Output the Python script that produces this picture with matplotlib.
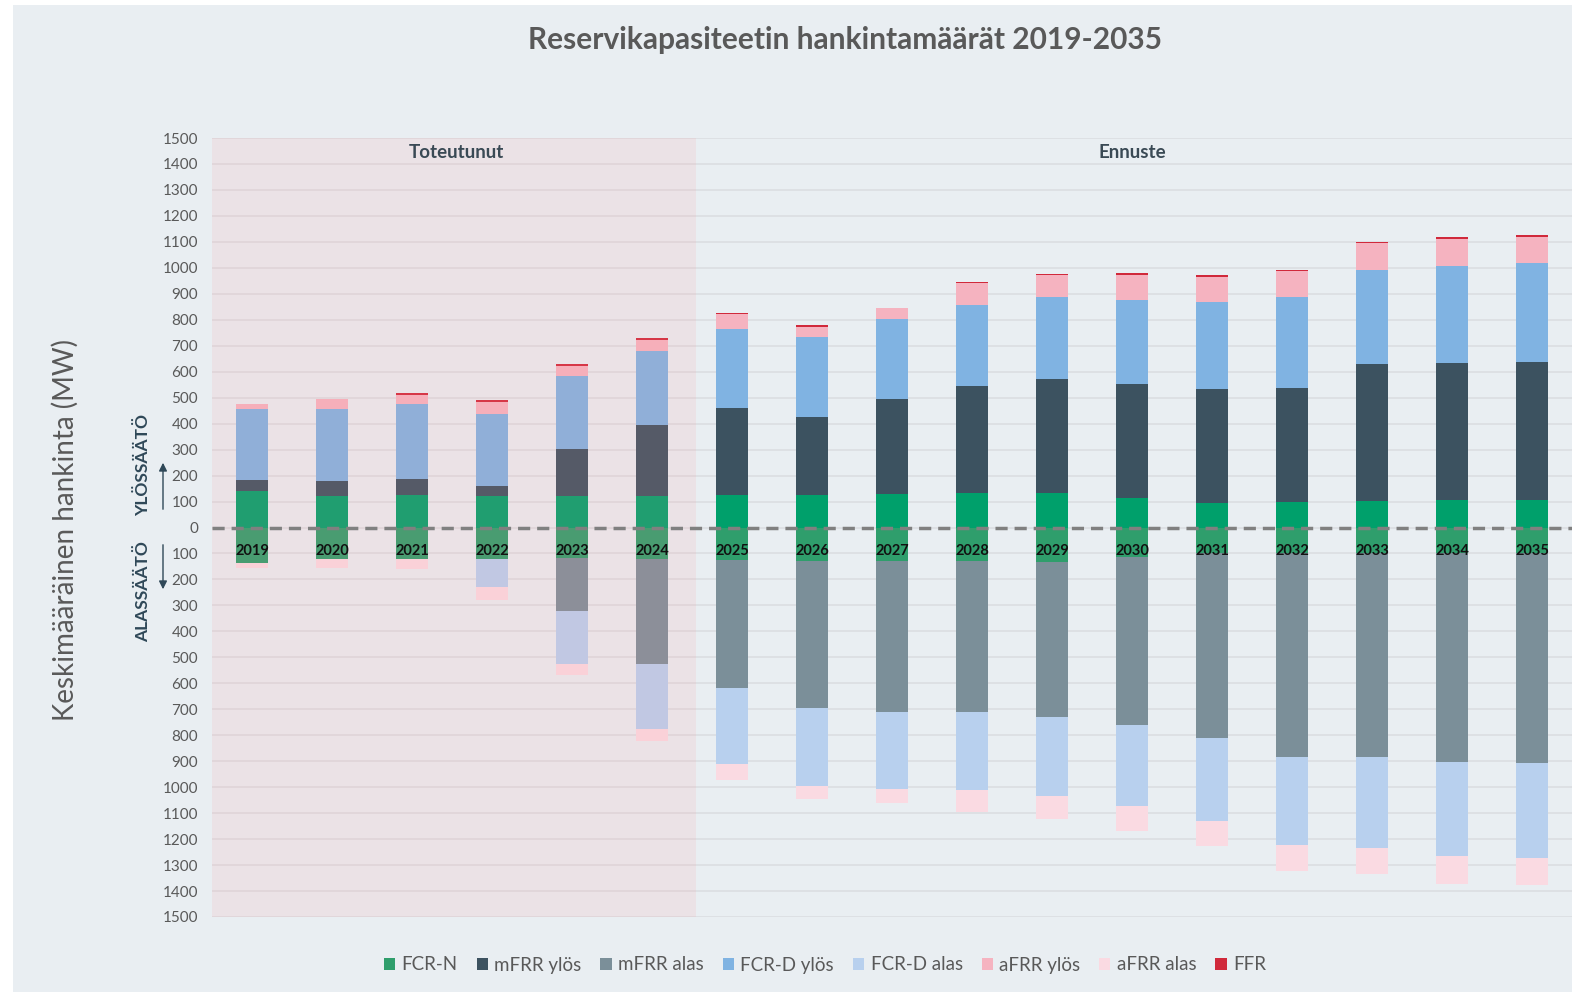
import matplotlib
matplotlib.use("Agg")
import matplotlib.pyplot as plt
from matplotlib.patches import Rectangle, Patch, FancyArrowPatch
import numpy as np

plt.rcParams['font.family'] = ['Lato', 'DejaVu Sans']

years = ['2019', '2020', '2021', '2022', '2023', '2024', '2025', '2026', '2027',
         '2028', '2029', '2030', '2031', '2032', '2033', '2034', '2035']

# Upward regulation (MW), segment heights
fcrn_up = [141, 122, 124, 122, 122, 122, 126, 126, 128, 131, 131, 112, 95, 99, 101, 104, 106]
mfrr_up = [41, 57, 62, 38, 181, 273, 336, 301, 366, 414, 440, 442, 440, 438, 530, 529, 530]
fcrd_up = [275, 279, 291, 279, 282, 283, 303, 308, 309, 311, 316, 324, 334, 350, 360, 373, 381]
afrr_up = [20, 37, 35, 45, 38, 43, 59, 38, 41, 84, 84, 94, 96, 101, 103, 106, 102]
ffr = [0, 0, 6, 7, 8, 7, 3, 6, 3, 6, 6, 7, 6, 4, 5, 6, 7]

# Downward regulation (MW), segment heights
fcrn_down = [138, 122, 122, 122, 119, 122, 126, 128, 128, 128, 132, 115, 100, 100, 100, 100, 100]
mfrr_down = [0, 0, 0, 0, 203, 403, 493, 567, 581, 582, 596, 645, 710, 785, 782, 804, 808]
fcrd_down = [0, 0, 0, 106, 203, 252, 291, 299, 297, 300, 307, 312, 322, 337, 351, 361, 366]
afrr_down = [19, 34, 38, 50, 42, 45, 61, 53, 56, 86, 87, 95, 96, 101, 100, 107, 104]

c_fcrn = '#00a06b'
c_fcrn_dn = '#2f9e6c'
c_mfrr_up = '#3c5260'
c_mfrr_dn = '#7b8f99'
c_fcrd_up = '#80b3e2'
c_fcrd_dn = '#b8d0ee'
c_afrr_up = '#f5b3c0'
c_afrr_dn = '#fadae2'
c_ffr = '#d0293b'
bg = '#e9eef2'
txt = '#595959'

W, H = 1572, 992
fig = plt.figure(figsize=(W / 100, H / 100), dpi=100, facecolor=bg)
# white margins (top and left) as in the cropped original
fig.add_artist(Rectangle((0, 0), 13 / W, 1, transform=fig.transFigure,
                         facecolor='white', edgecolor='none', zorder=10))
fig.add_artist(Rectangle((0, 1 - 5 / H), 1, 5 / H, transform=fig.transFigure,
                         facecolor='white', edgecolor='none', zorder=10))

ax = fig.add_axes([212 / W, 1 - 917 / H, 1 - 212 / W, (917 - 138) / H])
ax.set_facecolor('none')
x = np.arange(len(years))
bw = 0.4

def stack(segs, colors, sign):
    base = np.zeros(len(x))
    for s, c in zip(segs, colors):
        s = np.array(s, dtype=float)
        ax.bar(x, sign * s, bw, bottom=sign * base, color=c, edgecolor='none', zorder=3)
        base += s

stack([fcrn_up, mfrr_up, fcrd_up, afrr_up, ffr],
      [c_fcrn, c_mfrr_up, c_fcrd_up, c_afrr_up, c_ffr], 1)
stack([fcrn_down, mfrr_down, fcrd_down, afrr_down],
      [c_fcrn_dn, c_mfrr_dn, c_fcrd_dn, c_afrr_dn], -1)

ax.set_xlim(-0.5, 16.5)
ax.set_ylim(-1500, 1500)
ticks = np.arange(-1500, 1501, 100)
ax.set_yticks(ticks)
ax.set_yticklabels([str(abs(t)) for t in ticks], fontsize=11, color=txt)
ax.tick_params(axis='y', length=0, pad=10)
ax.set_xticks([])
for s in ax.spines.values():
    s.set_visible(False)
for t in ticks:
    ax.axhline(t, color='#dcdfe3', lw=1.3, zorder=1)

# historical shading overlay
ax.add_patch(Rectangle((-0.5, -1500), 6.05, 3000, facecolor=(1.0, 0.59, 0.6), alpha=0.13,
                       edgecolor='none', zorder=4))

ax.axhline(0, color='#808080', lw=2.5, ls=(0, (3.5, 2)), zorder=5)

for xi, y in zip(x, years):
    ax.text(xi, -92, y, ha='center', va='center', fontsize=10.5, fontweight='bold',
            color='#111111', zorder=6)

ax.text(2.55, 1445, 'Toteutunut', ha='center', va='center', fontsize=13.5, fontweight='bold',
        color='#3a4a55', zorder=6)
ax.text(11.0, 1445, 'Ennuste', ha='center', va='center', fontsize=13.5, fontweight='bold',
        color='#3a4a55', zorder=6)

fig.text(845 / W, 1 - 40 / H, 'Reservikapasiteetin hankintamäärät 2019-2035', ha='center',
         va='center', fontsize=21.5, fontweight='bold', color=txt)

fig.text(65 / W, 1 - 530 / H, 'Keskimääräinen hankinta (MW)', rotation=90, ha='center',
         va='center', fontsize=20, color=txt)
fig.text(143 / W, 1 - 465 / H, 'YLÖSSÄÄTÖ', rotation=90, ha='center', va='center',
         fontsize=12.5, fontweight='bold', color='#2f4858')
fig.text(143 / W, 1 - 592 / H, 'ALASSÄÄTÖ', rotation=90, ha='center', va='center',
         fontsize=12.5, fontweight='bold', color='#2f4858')
arrowprops = dict(arrowstyle='-|>', color='#2f4858', lw=1.0, mutation_scale=12)
fig.add_artist(FancyArrowPatch((163 / W, 1 - 512 / H), (163 / W, 1 - 460 / H),
               transform=fig.transFigure, **arrowprops))
fig.add_artist(FancyArrowPatch((163 / W, 1 - 542 / H), (163 / W, 1 - 592 / H),
               transform=fig.transFigure, **arrowprops))

labels = ['FCR-N', 'mFRR ylös', 'mFRR alas', 'FCR-D ylös', 'FCR-D alas', 'aFRR ylös', 'aFRR alas', 'FFR']
colors = [c_fcrn_dn, c_mfrr_up, c_mfrr_dn, c_fcrd_up, c_fcrd_dn, c_afrr_up, c_afrr_dn, c_ffr]
handles = [Patch(facecolor=c, edgecolor='none') for c in colors]
leg = fig.legend(handles, labels, loc='center', bbox_to_anchor=(825 / W, 1 - 965 / H), ncol=8,
                 frameon=False, fontsize=13.5, handlelength=0.6, handleheight=0.6,
                 handletextpad=0.35, columnspacing=1.0)
for t in leg.get_texts():
    t.set_color(txt)

fig.savefig('out.png', dpi=100, facecolor=bg)
